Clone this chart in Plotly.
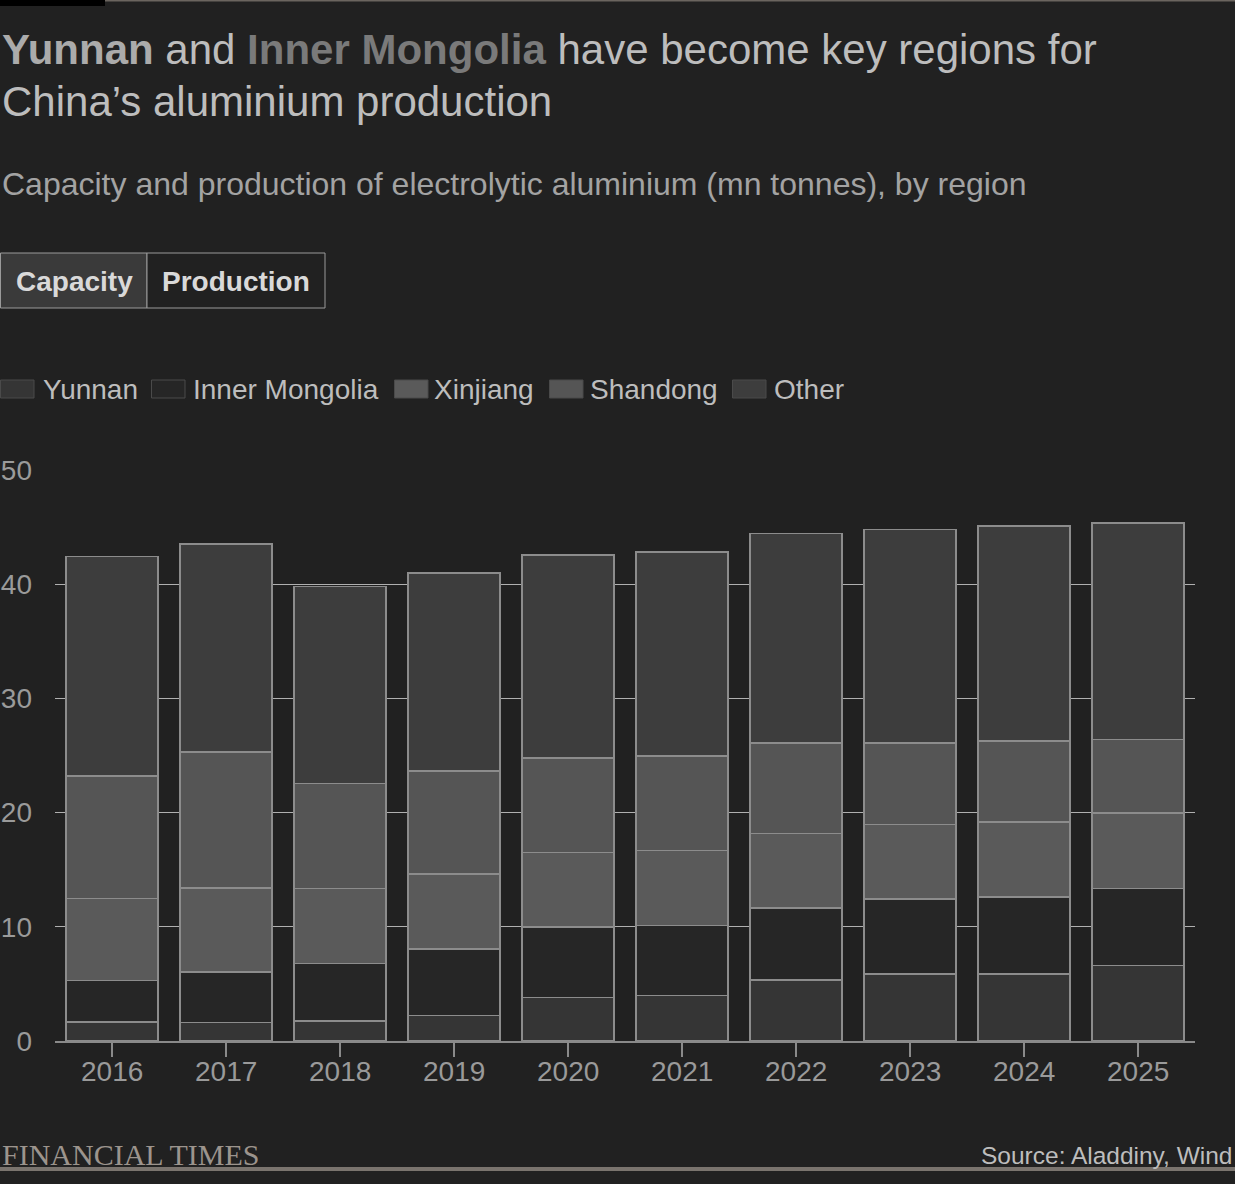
import plotly.graph_objects as go

# capacity of electrolytic aluminium, mn tonnes
years = ["2016", "2017", "2018", "2019", "2020", "2021", "2022", "2023", "2024", "2025"]
yunnan = [1.67, 1.64, 1.75, 2.22, 3.80, 3.98, 5.34, 5.88, 5.88, 6.59]
inner_mongolia = [3.62, 4.41, 5.03, 5.82, 6.17, 6.14, 6.32, 6.57, 6.75, 6.75]
xinjiang = [7.20, 7.34, 6.58, 6.58, 6.55, 6.55, 6.53, 6.53, 6.53, 6.63]
shandong = [10.73, 11.93, 9.18, 9.01, 8.28, 8.27, 7.90, 7.12, 7.09, 6.44]
other = [19.21, 18.22, 17.28, 17.36, 17.77, 17.87, 18.35, 18.69, 18.84, 18.93]

regions = ["Yunnan", "Inner Mongolia", "Xinjiang", "Shandong", "Other"]
series = [yunnan, inner_mongolia, xinjiang, shandong, other]
colours = ["#353535", "#262626", "#5a5a5a", "#555555", "#3d3d3d"]

BG = "#212121"
FONT = "Liberation Sans, Arial, sans-serif"

# figure geometry in pixels
W, H = 1235, 1184
L, R, T, B = 55, 40, 470, 143


def px(x):
    return (x - L) / (W - L - R)


def py(y):
    return (H - B - y) / (H - T - B)


def label(text, x, y, size, color, anchor="left", family=FONT):
    return dict(text=text, xref="paper", yref="paper", x=px(x), y=py(y),
                xanchor=anchor, yanchor="middle", showarrow=False,
                font=dict(family=family, size=size, color=color))


def box(x0, x1, y0, y1, fill, line_col=None, lw=0):
    return dict(type="rect", xref="paper", yref="paper",
                x0=px(x0), x1=px(x1), y0=py(y0), y1=py(y1), fillcolor=fill,
                line=dict(color=line_col or fill, width=lw), layer="above")


fig = go.Figure()
for name, vals, col in zip(regions, series, colours):
    fig.add_trace(go.Bar(
        x=years, y=vals, name=name,
        marker=dict(color=col, line=dict(color="#8c8c8c", width=1.5)),
        showlegend=False,
    ))

shapes = []
annotations = []

# FT top strip
shapes.append(box(0, W, 0, 1.5, "#6b655f"))
shapes.append(box(0, 105, 0, 6, "#000000"))

# title and subtitle
annotations.append(label(
    '<b><span style="color:#ababab">Yunnan</span></b> and '
    '<b><span style="color:#7a7a7a">Inner Mongolia</span></b> have become key regions for',
    0, 49, 42, "#bdbdbd"))
annotations.append(label("China’s aluminium production", 0, 101, 42, "#bdbdbd"))
annotations.append(label(
    "Capacity and production of electrolytic aluminium (mn tonnes), by region",
    0, 184, 32, "#a3a3a3"))

# toggle buttons
shapes.append(box(0.5, 147, 253, 308, "#3a3a3a", "#9a9a9a", 1))
shapes.append(box(147, 325, 253, 308, BG, "#9a9a9a", 1))
annotations.append(label("<b>Capacity</b>", 74, 281, 28, "#d9d9d9", "center"))
annotations.append(label("<b>Production</b>", 236, 281, 28, "#d9d9d9", "center"))

# legend
swatch_x = [0, 151, 394, 549, 732]
label_x = [41, 191, 432, 588, 772]
for name, col, sx, lx in zip(regions, colours, swatch_x, label_x):
    shapes.append(box(sx + 0.5, sx + 34, 380, 398, col, "#4a4a4a", 1))
    annotations.append(label(name, lx, 389, 28, "#bdbdbd"))

# year labels on the category axis (index positions), a little closer than the default
for i, yr in enumerate(years):
    annotations.append(dict(text=yr, xref="x", yref="paper", x=i, y=py(1071),
                            xanchor="center", yanchor="middle", showarrow=False,
                            font=dict(family=FONT, size=28, color="#9a9a9a")))

# footer
shapes.append(box(0, W, 1167, 1171, "#7a746e"))
annotations.append(label("FINANCIAL TIMES", 0, 1154, 30, "#9c948d",
                         family="Liberation Serif, Times New Roman, serif"))
annotations.append(label("Source: Aladdiny, Wind", 1234, 1155, 24.5, "#bdbdbd", "right"))

fig.update_layout(
    width=W, height=H,
    margin=dict(l=L, r=R, t=T, b=B, autoexpand=False),
    paper_bgcolor=BG, plot_bgcolor=BG,
    barmode="stack", bargap=0.19,
    shapes=shapes, annotations=annotations,
    font=dict(family=FONT, color="#9a9a9a"),
)
fig.update_xaxes(
    type="category", range=[-0.5, len(years) - 0.5],
    showgrid=False, showline=True, linecolor="#8a8a8a", linewidth=2,
    ticks="outside", ticklen=14, tickwidth=2, tickcolor="#8a8a8a",
    showticklabels=False,
)
fig.update_yaxes(
    range=[0, 50], tickvals=[0, 10, 20, 30, 40, 50],
    showgrid=True, gridcolor="#b0b0b0", gridwidth=1, zeroline=False,
    showline=False, ticks="", tickfont=dict(size=28, color="#9a9a9a"),
    ticklabelstandoff=22,
)

fig.write_html("out.html", config={"displayModeBar": False},
               post_script="document.body.style.margin='0';")
